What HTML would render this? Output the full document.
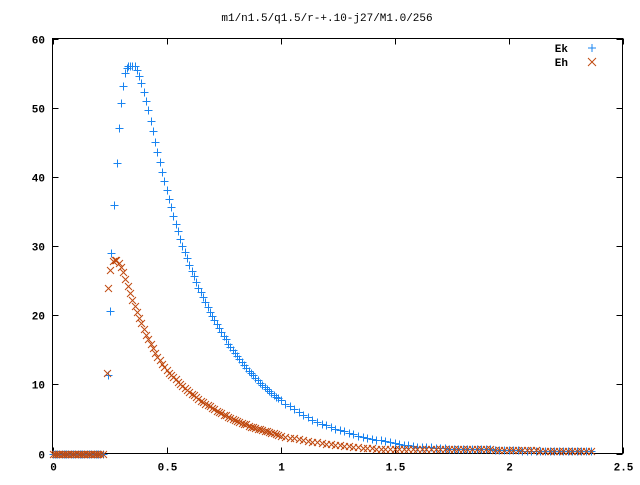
<!DOCTYPE html>
<html><head><meta charset="utf-8"><style>
html,body{margin:0;padding:0;background:#fff}
svg text{font-family:"Liberation Mono",monospace;font-size:11px;font-weight:bold;fill:#000}
</style></head><body>
<svg id="chart" width="640" height="480" xmlns="http://www.w3.org/2000/svg">
<text x="327" y="21" text-anchor="middle" style="font-weight:normal">m1/n1.5/q1.5/r-+.10-j27/M1.0/256</text>
<g id="axes"></g>
<g id="marks"></g>
<g>
<text x="568" y="52" text-anchor="end">Ek</text>
<g stroke="#1a84f0" stroke-width="1"><line x1="588" y1="48" x2="596" y2="48"/><line x1="592" y1="44" x2="592" y2="52"/></g>
<text x="568" y="66" text-anchor="end">Eh</text>
<g stroke="#c04a10" stroke-width="1"><line x1="588" y1="58" x2="596" y2="66"/><line x1="588" y1="66" x2="596" y2="58"/></g>
</g>
</svg>
<script>
const xTicks=[0,0.5,1,1.5,2,2.5];
const xTickLabels=["0","0.5","1","1.5","2","2.5"];
const yTicks=[0,10,20,30,40,50,60];
const yTickLabels=["0","10","20","30","40","50","60"];
const zeroX=[0,0.01,0.02,0.03,0.04,0.05,0.06,0.07,0.08,0.09,0.10,0.11,0.12,0.13,0.14,0.15,0.16,0.17,0.18,0.19,0.20,0.21,0.22];
const tailX=[0.36,0.37,0.38,0.39,0.40,0.41,0.42,0.43,0.44,0.45,0.46,0.47,0.48,0.49,0.50,0.51,0.52,0.53,0.54,0.55,0.56,0.57,0.58,0.59,0.60,0.61,0.62,0.63,0.64,0.65,0.66,0.67,0.68,0.69,0.70,0.71,0.72,0.73,0.74,0.75,0.76,0.77,0.78,0.79,0.80,0.81,0.82,0.83,0.84,0.85,0.86,0.87,0.88,0.89,0.90,0.91,0.92,0.93,0.94,0.95,0.96,0.97,0.98,0.99,1.00,1.02,1.04,1.06,1.08,1.10,1.12,1.14,1.16,1.18,1.20,1.22,1.24,1.26,1.28,1.30,1.32,1.34,1.36,1.38,1.40,1.42,1.44,1.46,1.48,1.50,1.52,1.54,1.56,1.58,1.60,1.62,1.64,1.66,1.68,1.70,1.72,1.74,1.76,1.78,1.80,1.82,1.84,1.86,1.88,1.90,1.92,1.94,1.96,1.98,2.00,2.02,2.04,2.06,2.08,2.10,2.12,2.14,2.16,2.18,2.20,2.22,2.24,2.26,2.28,2.30,2.32,2.34,2.36];
const ekRiseX=[0.243,0.25,0.257,0.27,0.284,0.293,0.30,0.31,0.317,0.325,0.333,0.34,0.35];
const ekRiseY=[11.3,20.6,29,36,42,47,50.7,53.2,55,55.8,56,56,56];
const ekTailY=[56,55.4,54.6,53.5,52.3,51,49.6,48.1,46.6,45.1,43.6,42.1,40.7,39.4,38.1,36.8,35.6,34.4,33.2,32.1,31.0,30.0,29.1,28.2,27.3,26.4,25.6,24.8,24.0,23.3,22.6,21.9,21.2,20.5,19.9,19.3,18.7,18.1,17.5,17.0,16.5,15.9,15.4,15.0,14.5,14.1,13.6,13.2,12.8,12.4,12.0,11.6,11.3,10.9,10.6,10.2,9.9,9.6,9.3,9.0,8.8,8.5,8.2,8.0,7.7,7.2,6.8,6.4,6.0,5.6,5.3,4.9,4.6,4.3,4.1,3.8,3.6,3.4,3.2,3.0,2.8,2.6,2.4,2.3,2.1,2.0,1.9,1.8,1.6,1.5,1.4,1.3,1.2,1.1,1.0,1.0,0.9,0.9,0.8,0.8,0.8,0.7,0.7,0.7,0.7,0.6,0.6,0.6,0.6,0.6,0.6,0.5,0.5,0.5,0.5,0.5,0.5,0.4,0.4,0.4,0.4,0.4,0.4,0.4,0.3,0.3,0.3,0.3,0.3,0.3,0.3,0.3,0.3];
const ehRiseX=[0.237,0.243,0.252,0.265,0.272,0.278];
const ehRiseY=[11.7,23.9,26.5,27.9,28,28];
const ehMidX=[0.29,0.30,0.31,0.32,0.33,0.34,0.35];
const ehMidY=[27.6,27,26.2,25.2,24.2,23.2,22.2];
const ehTailY=[21.3,20.4,19.6,18.8,18.0,17.2,16.5,15.8,15.2,14.6,14.0,13.5,13.0,12.5,12.1,11.7,11.3,11.0,10.7,10.4,10.1,9.8,9.5,9.2,8.9,8.6,8.4,8.1,7.9,7.6,7.4,7.2,7.0,6.8,6.6,6.4,6.2,6.0,5.8,5.6,5.5,5.3,5.1,5.0,4.9,4.7,4.6,4.4,4.3,4.2,4.0,3.9,3.8,3.7,3.6,3.5,3.4,3.3,3.2,3.1,3.0,2.9,2.8,2.7,2.6,2.45,2.3,2.17,2.04,1.92,1.8,1.7,1.6,1.5,1.41,1.33,1.25,1.17,1.1,1.04,0.98,0.92,0.86,0.81,0.76,0.72,0.7,0.68,0.66,0.64,0.62,0.6,0.6,0.6,0.6,0.6,0.6,0.6,0.6,0.6,0.6,0.6,0.6,0.6,0.6,0.6,0.6,0.6,0.6,0.6,0.6,0.5,0.5,0.5,0.5,0.5,0.5,0.5,0.5,0.5,0.5,0.4,0.4,0.4,0.4,0.4,0.4,0.4,0.4,0.3,0.3,0.3,0.3];

const L=52.5,R=622.5,T=38.5,B=453.5;
const xs=v=>L+(v-0)/(2.5-0)*(R-L);
const ys=v=>B-(v-0)/(60-0)*(B-T);
const NS="http://www.w3.org/2000/svg";
function mk(tag,attrs,parent){const e=document.createElementNS(NS,tag);for(const k in attrs)e.setAttribute(k,attrs[k]);parent.appendChild(e);return e;}
const axes=document.getElementById('axes'),marks=document.getElementById('marks');
const frame=mk('rect',{x:L,y:T,width:R-L,height:B-T,fill:'none',stroke:'#000','stroke-width':1},axes);


xTicks.forEach((t,i)=>{const x=Math.round(xs(t))+0.5;
 const a=mk('path',{d:`M${x},${B}v-6M${x},${T}v6`,stroke:'#000'},axes);
 
 
 const tx=mk('text',{x:x,y:B+17,'text-anchor':'middle'},axes);tx.textContent=xTickLabels[i];
 
 });
yTicks.forEach((t,i)=>{const y=Math.round(ys(t))+0.5;
 const a=mk('path',{d:`M${L},${y}h6M${R},${y}h-6`,stroke:'#000'},axes);
 
 
 const tx=mk('text',{x:45,y:y+4,'text-anchor':'end'},axes);tx.textContent=yTickLabels[i];
 
 });
function plus(xv,yv,name){const x=Math.round(xs(xv))+0.5,y=Math.round(ys(yv))+0.5;
 const p=mk('path',{d:`M${x-4},${y}h8M${x},${y-4}v8`,stroke:'#1a84f0','stroke-width':1,fill:'none'},marks);
 
 }
function cross(xv,yv,name){const x=Math.round(xs(xv))+0.5,y=Math.round(ys(yv))+0.5;
 const p=mk('path',{d:`M${x-3.5},${y-3.5}l7,7M${x-3.5},${y+3.5}l7,-7`,stroke:'#c04a10','stroke-width':1,fill:'none'},marks);
 
 }
zeroX.forEach(x=>plus(x,0,'ek-point'));
ekRiseX.forEach((x,i)=>plus(x,ekRiseY[i],'ek-point'));
tailX.forEach((x,i)=>plus(x,ekTailY[i],'ek-point'));
zeroX.forEach(x=>cross(x,0,'eh-point'));
ehRiseX.forEach((x,i)=>cross(x,ehRiseY[i],'eh-point'));
ehMidX.forEach((x,i)=>cross(x,ehMidY[i],'eh-point'));
tailX.forEach((x,i)=>cross(x,ehTailY[i],'eh-point'));
</script>
</body></html>
